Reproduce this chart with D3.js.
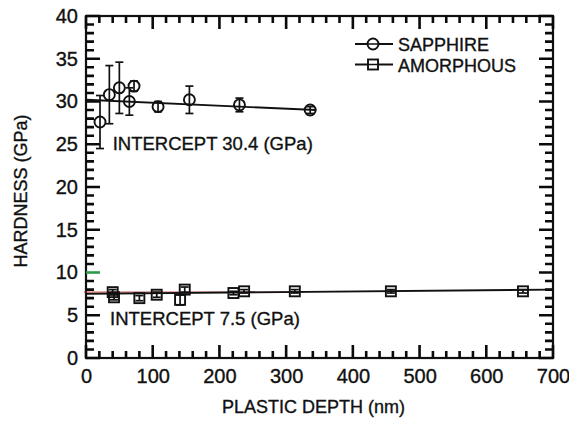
<!DOCTYPE html>
<html><head><meta charset="utf-8">
<script src="https://cdn.jsdelivr.net/npm/d3@7"></script>
<style>
body{margin:0;background:#fff;}
svg text{font-family:"Liberation Sans",Arial,Helvetica,sans-serif;fill:#111;stroke:#111;stroke-width:0.35px;}
</style></head>
<body><svg id="c" width="569" height="421"></svg>
<script>
// Data
const sapphireDepth = [21, 35, 50, 65, 72, 108, 155, 230, 336];
const sapphireHard  = [27.6, 30.8, 31.6, 30.0, 31.8, 29.4, 30.2, 29.6, 29.0];
const sapphireErr   = [3.1, 3.4, 3.0, 1.6, 0.6, 0.6, 1.6, 0.8, 0.4];
const amorphDepth = [40, 42, 80, 106, 141, 148, 221, 237, 313, 457, 655];
const amorphHard  = [7.7, 7.1, 7.0, 7.4, 6.8, 8.0, 7.6, 7.8, 7.8, 7.8, 7.8];
const amorphErr   = [0.3, 0.3, 0.3, 0.3, 0.6, 0.3, 0.2, 0.2, 0.2, 0.2, 0.2];
const sapphireFitX = [0, 345];
const sapphireFitY = [30.2, 29.0];
const amorphFitX = [0, 700];
const amorphFitY = [7.5, 8.0];
const amorphRedX = [-3, 325];
const amorphRedY = [7.7, 7.7];
const xTicks = [0, 100, 200, 300, 400, 500, 600, 700];
const yTicks = [0, 5, 10, 15, 20, 25, 30, 35, 40];
const legendLabels = ["SAPPHIRE", "AMORPHOUS"];
const intercepts = ["INTERCEPT 30.4 (GPa)", "INTERCEPT 7.5 (GPa)"];
const interceptPos = [[40, 24.3], [36, 3.9]];

const svg = d3.select("#c");
const L = 86, R = 553, T = 16, B = 358;
const x = d3.scaleLinear().domain([0, 700]).range([L, R]);
const y = d3.scaleLinear().domain([0, 40]).range([B, T]);

const xAll = d3.range(0, 701, 20);
const yAll = d3.range(0, 41, 1);
const MINX = 7, MAJX = 13, MINY = 8, MAJY = 14, TW = 2.6;
const xLen = v => (v % 100 === 0 ? MAJX : MINX);
const yLen = v => (v % 5 === 0 ? MAJY : MINY);

// frame
svg.append("rect").attr("x", L).attr("y", T).attr("width", R - L).attr("height", B - T)
  .attr("fill", "none").attr("stroke", "#111").attr("stroke-width", 2.2);

// tick marks (inward, all four sides), drawn as one path per side
const tickPath = (pts) => pts.map(p => `M${p[0]},${p[1]}L${p[2]},${p[3]}`).join("");
const tickStyle = p => p.attr("fill", "none").attr("stroke", "#0a0a0a").attr("stroke-width", TW)
  .attr("stroke-linecap", "butt");
svg.append("path").attr("d", tickPath(xAll.map(v => [x(v), B, x(v), B - xLen(v)]))).call(tickStyle);
svg.append("path").attr("d", tickPath(xAll.map(v => [x(v), T, x(v), T + xLen(v)]))).call(tickStyle);
svg.append("path").attr("d", tickPath(yAll.filter(v => v !== 10).map(v => [L, y(v), L + yLen(v), y(v)]))).call(tickStyle);
svg.append("path").attr("d", tickPath(yAll.map(v => [R, y(v), R - yLen(v), y(v)]))).call(tickStyle);
svg.append("path").attr("d", tickPath([[L, y(10), L + yLen(10), y(10)]])).call(tickStyle)
  .attr("stroke", "#2a9a4a");

// tick labels via d3 axes (no tick lines)
const xb = svg.append("g").attr("transform", `translate(0,${B})`)
  .call(d3.axisBottom(x).tickValues(xTicks).tickSize(0).tickPadding(11));
xb.select(".domain").remove();
xb.selectAll("text").attr("font-size", 20).attr("font-family", null);
const yl = svg.append("g").attr("transform", `translate(${L},0)`)
  .call(d3.axisLeft(y).tickValues(yTicks).tickSize(0).tickPadding(8));
yl.select(".domain").remove();
yl.selectAll("text").attr("font-size", 20).attr("font-family", null);

// axis titles
svg.append("text").attr("x", (L + R) / 2 - 6).attr("y", 413).attr("text-anchor", "middle")
  .attr("font-size", 18).text("PLASTIC DEPTH (nm)");
svg.append("text").attr("transform", `translate(27,${(T + B) / 2 + 4}) rotate(-90)`)
  .attr("text-anchor", "middle").attr("font-size", 18).text("HARDNESS (GPa)");

// fit lines
const line = d3.line().x(d => x(d[0])).y(d => y(d[1]));
svg.append("path").datum(amorphRedX.map((v, i) => [v, amorphRedY[i]]))
  .attr("d", line).attr("stroke", "#b02a2a").attr("stroke-width", 1.3).attr("fill", "none").attr("opacity", 0.8);
svg.append("path").datum(sapphireFitX.map((v, i) => [v, sapphireFitY[i]]))
  .attr("d", line).attr("stroke", "#111").attr("stroke-width", 1.9).attr("fill", "none");
svg.append("path").datum(amorphFitX.map((v, i) => [v, amorphFitY[i]]))
  .attr("d", line).attr("stroke", "#111").attr("stroke-width", 1.9).attr("fill", "none");

// error bars
function errBars(xs, ys, es) {
  const eg = svg.append("g").attr("stroke", "#111").attr("stroke-width", 1.7);
  xs.forEach((v, i) => {
    const y0 = y(ys[i] - es[i]), y1 = y(ys[i] + es[i]), cx = x(v);
    eg.append("line").attr("x1", cx).attr("x2", cx).attr("y1", y0).attr("y2", y1);
    eg.append("line").attr("x1", cx - 4).attr("x2", cx + 4).attr("y1", y0).attr("y2", y0);
    eg.append("line").attr("x1", cx - 4).attr("x2", cx + 4).attr("y1", y1).attr("y2", y1);
  });
}
errBars(sapphireDepth, sapphireHard, sapphireErr);
errBars(amorphDepth, amorphHard, amorphErr);

// markers
svg.append("g").selectAll("circle").data(sapphireDepth).join("circle")
  .attr("cx", d => x(d)).attr("cy", (d, i) => y(sapphireHard[i])).attr("r", 5.5)
  .attr("fill", "none").attr("stroke", "#111").attr("stroke-width", 1.9);
svg.append("g").selectAll("rect").data(amorphDepth).join("rect")
  .attr("x", d => x(d) - 5).attr("y", (d, i) => y(amorphHard[i]) - 5)
  .attr("width", 10).attr("height", 10)
  .attr("fill", "none").attr("stroke", "#111").attr("stroke-width", 1.9);

// intercept labels
intercepts.forEach((t, i) => {
  svg.append("text").attr("x", x(interceptPos[i][0])).attr("y", y(interceptPos[i][1]))
    .attr("font-size", 18.5).text(t);
});

// legend
const lg = svg.append("g");
legendLabels.forEach((t, i) => {
  const ly = 44 + i * 20.5;
  lg.append("line").attr("x1", 355).attr("x2", 393).attr("y1", ly).attr("y2", ly)
    .attr("stroke", "#111").attr("stroke-width", 1.9);
  if (i === 0) {
    lg.append("circle").attr("cx", 373).attr("cy", ly).attr("r", 5.5)
      .attr("fill", "#fff").attr("stroke", "#111").attr("stroke-width", 1.9);
  } else {
    lg.append("rect").attr("x", 368).attr("y", ly - 5).attr("width", 10).attr("height", 10)
      .attr("fill", "#fff").attr("stroke", "#111").attr("stroke-width", 1.9);
  }
  lg.append("line").attr("x1", 367).attr("x2", 379).attr("y1", ly).attr("y2", ly)
    .attr("stroke", "#111").attr("stroke-width", 1.5);
  lg.append("text").attr("x", 398).attr("y", ly + 7).attr("font-size", 18).text(t);
});
</script></body></html>
